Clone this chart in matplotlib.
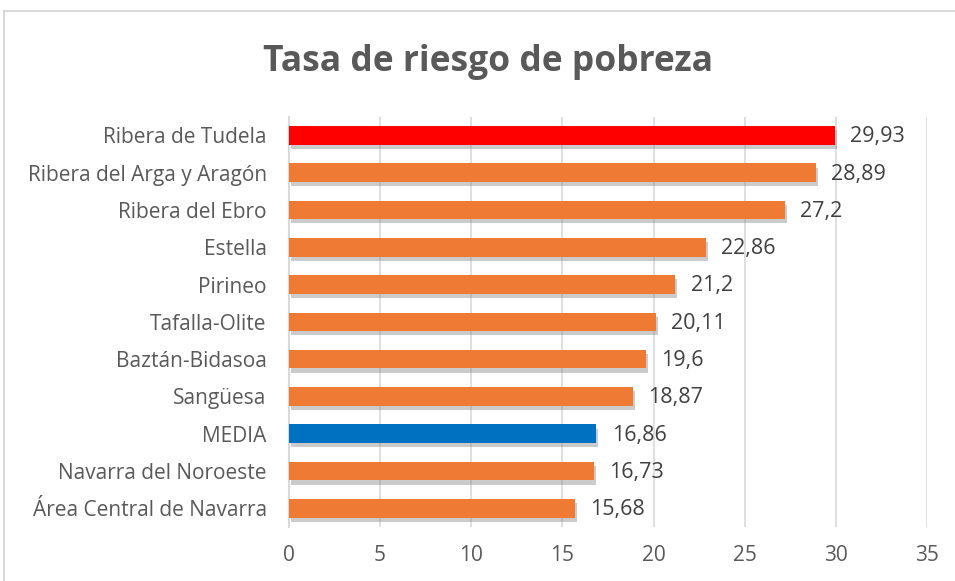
import matplotlib.pyplot as plt
import matplotlib.patheffects as pe
from matplotlib.patches import Rectangle

regions = ["Ribera de Tudela", "Ribera del Arga y Aragón", "Ribera del Ebro",
           "Estella", "Pirineo", "Tafalla-Olite", "Baztán-Bidasoa", "Sangüesa",
           "MEDIA", "Navarra del Noroeste", "Área Central de Navarra"]
values = [29.93, 28.89, 27.2, 22.86, 21.2, 20.11, 19.6, 18.87, 16.86, 16.73, 15.68]
value_labels = ["29,93", "28,89", "27,2", "22,86", "21,2", "20,11", "19,6",
                "18,87", "16,86", "16,73", "15,68"]

colors = []
for name in regions:
    if name == "Ribera de Tudela":
        colors.append("#FF0000")
    elif name == "MEDIA":
        colors.append("#0070C0")
    else:
        colors.append("#EE7A33")

plt.rcParams['font.family'] = ['Open Sans', 'DejaVu Sans']

fig = plt.figure(figsize=(9.55, 5.81), dpi=100)
ax = fig.add_axes([0.3026, 0.093, 0.668, 0.706])

pos = list(range(len(regions)))
bars = ax.barh(pos, values, height=0.5, color=colors, zorder=3)
for b in bars:
    b.set_path_effects([pe.SimplePatchShadow(offset=(1.5, -3), shadow_rgbFace='#8c8c8c', alpha=0.45),
                        pe.Normal()])

for p, v, lab in zip(pos, values, value_labels):
    ax.annotate(lab, (v, p), xytext=(11, -1), textcoords='offset points',
                va='center', ha='left', fontsize=15.5, color='#404040')

ax.set_xlim(0, 35)
ax.set_xticks(range(0, 36, 5))
ax.set_ylim(len(regions) - 0.5, -0.5)
ax.set_yticks(pos)
ax.set_yticklabels(regions)
ax.tick_params(axis='y', length=0, labelsize=15, labelcolor='#595959', pad=16)
ax.tick_params(axis='x', length=0, labelsize=15, labelcolor='#595959', pad=13)
ax.grid(axis='x', color='#D9D9D9', linewidth=1.2, zorder=0)
for s in ['top', 'right', 'bottom']:
    ax.spines[s].set_visible(False)
ax.spines['left'].set_color('#D9D9D9')
ax.spines['left'].set_linewidth(1.5)

fig.text(0.511, 0.893, "Tasa de riesgo de pobreza", ha='center', va='center',
         fontsize=25.5, fontweight='bold', color='#595959')

fig.patches.append(Rectangle((4 / 955, -0.05), 1.1, 1 - 11 / 581 + 0.05,
                             transform=fig.transFigure, fill=False,
                             edgecolor='#D9D9D9', linewidth=1.5))

fig.savefig("out.png", dpi=100)
